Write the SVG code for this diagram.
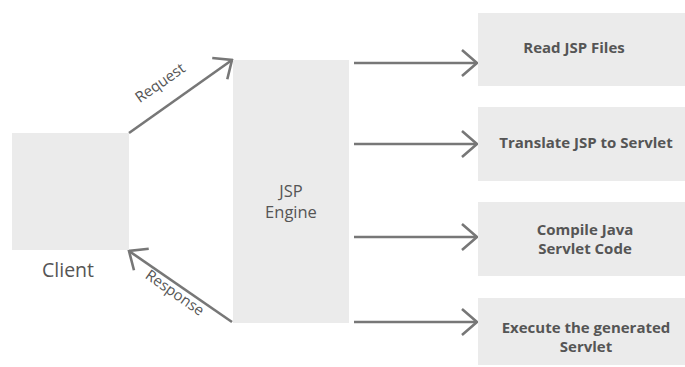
<svg xmlns="http://www.w3.org/2000/svg" width="685" height="367" viewBox="0 0 685 367">
<defs>
<marker id="arr" viewBox="0 0 20 30" refX="18" refY="15" markerWidth="20" markerHeight="30" markerUnits="userSpaceOnUse" orient="auto">
<path d="M3,2 L18,15 L3,28" fill="none" stroke="#777" stroke-width="2.6"/>
</marker>
<style>
.box{fill:#ebebeb}
.ln{stroke:#777;stroke-width:2.6;fill:none;marker-end:url(#arr)}
.t{font-family:"Open Sans","Noto Sans",sans-serif;fill:#555;text-anchor:middle}
.b{font-weight:bold;font-size:15px}
.n{font-size:16.5px}
</style>
</defs>
<rect width="685" height="367" fill="#fff"/>
<g id="connectors">
<line class="ln" x1="129" y1="133" x2="232" y2="60"/>
<line class="ln" x1="232" y1="322" x2="129" y2="251"/>
<line class="ln" x1="354" y1="63" x2="477" y2="63"/>
<line class="ln" x1="354" y1="144" x2="477" y2="144"/>
<line class="ln" x1="354" y1="237" x2="477" y2="237"/>
<line class="ln" x1="354" y1="322" x2="477" y2="322"/>
<text class="t" transform="translate(163,87) rotate(-35)" font-size="15">Request</text>
<text class="t" transform="translate(172,297) rotate(35)" font-size="15">Response</text>
</g>
<g id="client">
<rect class="box" x="12" y="133" width="117" height="117"/>
<text class="t" x="68" y="277" font-size="19.5">Client</text>
</g>
<g id="engine">
<rect class="box" x="233" y="60" width="116" height="263"/>
<text class="t n" x="291" y="197">JSP</text>
<text class="t n" x="291" y="218">Engine</text>
</g>
<g id="read">
<rect class="box" x="478" y="13" width="207" height="73"/>
<text class="t b" x="574" y="53">Read JSP Files</text>
</g>
<g id="translate">
<rect class="box" x="478" y="107" width="207" height="74"/>
<text class="t b" x="586" y="148">Translate JSP to Servlet</text>
</g>
<g id="compile">
<rect class="box" x="478" y="202" width="207" height="74"/>
<text class="t b" x="585" y="235">Compile Java</text>
<text class="t b" x="585" y="254">Servlet Code</text>
</g>
<g id="execute">
<rect class="box" x="478" y="298" width="207" height="67"/>
<text class="t b" x="586" y="333">Execute the generated</text>
<text class="t b" x="586" y="352">Servlet</text>
</g>
</svg>
